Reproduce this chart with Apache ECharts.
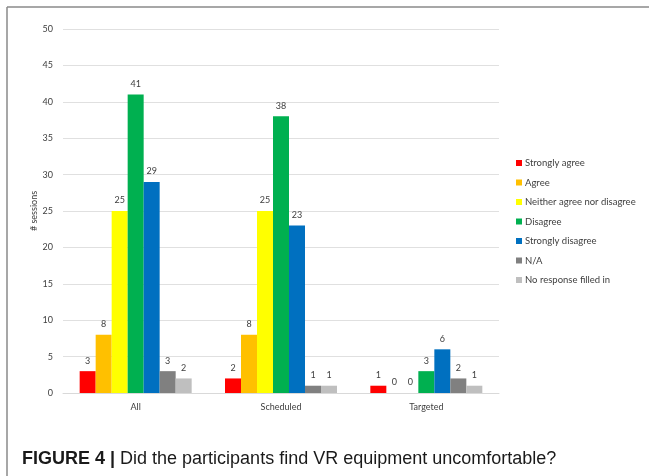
<!DOCTYPE html>
<html>
<head>
<meta charset="utf-8">
<script src="https://cdn.jsdelivr.net/npm/echarts@6/dist/echarts.min.js"></script>
<style>
  html, body { margin: 0; padding: 0; background: #fff; }
  #chart { width: 649px; height: 476px; }
</style>
</head>
<body>
<div id="chart"></div>
<script>
// Session groups on the x axis
const categories = ['All', 'Scheduled', 'Targeted'];

// Responses per answer, one value per group
const stronglyAgree = [3, 2, 1];
const agree = [8, 8, 0];
const neither = [25, 25, 0];
const disagree = [41, 38, 3];
const stronglyDisagree = [29, 23, 6];
const notApplicable = [3, 1, 2];
const noResponse = [2, 1, 1];

const seriesNames = ['Strongly agree', 'Agree', 'Neither agree nor disagree', 'Disagree', 'Strongly disagree', 'N/A', 'No response filled in'];
const seriesValues = [stronglyAgree, agree, neither, disagree, stronglyDisagree, notApplicable, noResponse];
const seriesColors = ['#FF0000', '#FFC000', '#FFFF00', '#00B050', '#0070C0', '#808080', '#BFBFBF'];

const yTicks = { min: 0, max: 50, interval: 5 };

const font = 'Lato, "Open Sans", sans-serif';

const chart = echarts.init(document.getElementById('chart'), null, { renderer: 'canvas' });

chart.setOption({
  backgroundColor: '#ffffff',
  animation: false,
  grid: { left: 63, right: 150, top: 29, bottom: 83, containLabel: false },
  legend: {
    orient: 'vertical',
    left: 511,
    top: 153,
    itemWidth: 6,
    itemHeight: 6,
    itemGap: 9.5,
    icon: 'rect',
    textStyle: { fontFamily: font, fontSize: 9.5, color: '#404040', padding: [0, 0, 0, -2] },
    data: seriesNames
  },
  xAxis: {
    type: 'category',
    data: categories,
    axisLine: { show: true, lineStyle: { color: '#d9d9d9', width: 1 } },
    axisTick: { show: false },
    axisLabel: { fontFamily: font, fontSize: 9, color: '#404040', margin: 10 }
  },
  yAxis: {
    type: 'value',
    min: yTicks.min,
    max: yTicks.max,
    interval: yTicks.interval,
    name: '# sessions',
    nameLocation: 'middle',
    nameGap: 24,
    nameMoveOverlap: false,
    nameRotate: 90,
    nameTextStyle: { fontFamily: font, fontSize: 9, color: '#404040' },
    axisLine: { show: false },
    axisTick: { show: false },
    axisLabel: { fontFamily: font, fontSize: 9, color: '#404040', margin: 10 },
    splitLine: { lineStyle: { color: '#e0e0e0', width: 1 } }
  },
  series: seriesNames.map((name, i) => ({
    name: name,
    type: 'bar',
    data: seriesValues[i],
    barWidth: 16,
    barGap: '0%',
    itemStyle: { color: seriesColors[i] },
    label: {
      show: true,
      position: 'top',
      distance: 6,
      fontFamily: font,
      fontSize: 9,
      color: '#404040'
    }
  })),
  graphic: [
    {
      type: 'line',
      shape: { x1: 7, y1: 7, x2: 649, y2: 7 },
      style: { stroke: '#8a8a8a', lineWidth: 1.5 }
    },
    {
      type: 'line',
      shape: { x1: 7, y1: 7, x2: 7, y2: 476 },
      style: { stroke: '#8a8a8a', lineWidth: 1.5 }
    },
    {
      type: 'text',
      left: 22,
      top: 450,
      style: {
        text: '{b|FIGURE 4 |} Did the participants find VR equipment uncomfortable?',
        fontFamily: '"Liberation Sans", Arial, sans-serif',
        fontSize: 18,
        fill: '#1a1a1a',
        rich: {
          b: { fontFamily: '"Liberation Sans", Arial, sans-serif', fontSize: 18, fontWeight: 'bold', fill: '#1a1a1a' }
        }
      }
    }
  ]
});
</script>
</body>
</html>
